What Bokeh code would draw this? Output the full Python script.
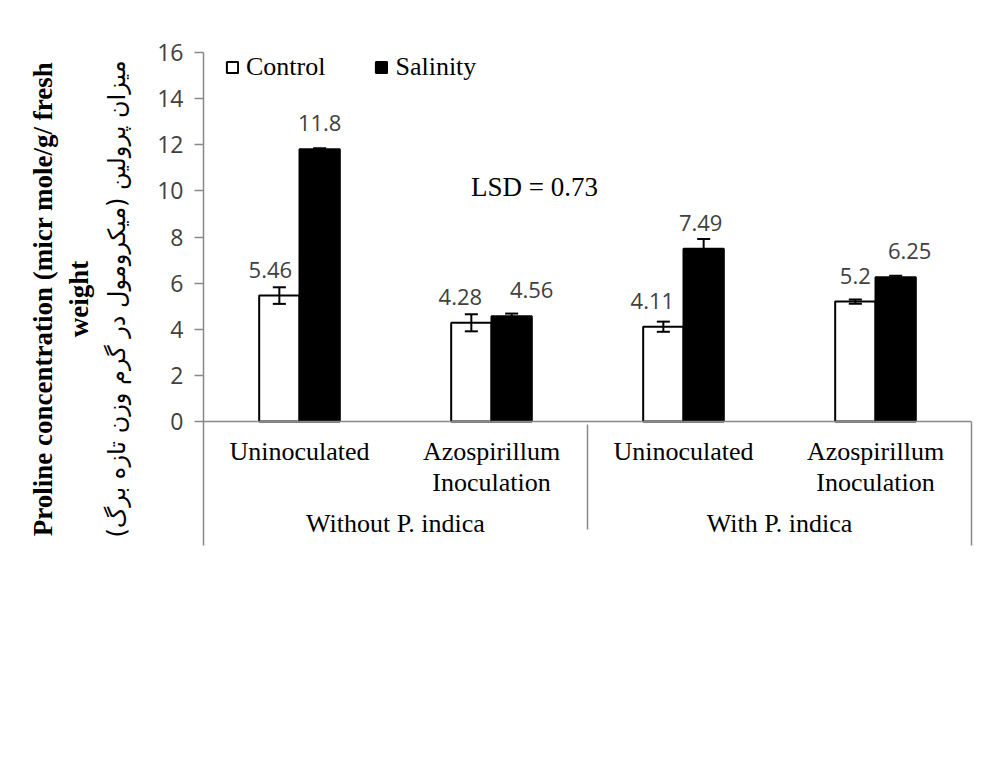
import math
from bokeh.plotting import figure
from bokeh.models import (ColumnDataSource, FactorRange, Range1d, LinearAxis, FixedTicker,
                          Label, LabelSet, Legend, LegendItem)
from bokeh.transform import dodge
from bokeh.core.properties import value
from bokeh.embed import file_html
from bokeh.resources import INLINE

# ---------------- data ----------------
groups = ["Without P. indica", "Without P. indica", "With P. indica", "With P. indica"]
treatments = ["Uninoculated", "Azospirillum\nInoculation", "Uninoculated", "Azospirillum\nInoculation"]
series_names = ["Control", "Salinity"]
control = [5.46, 4.28, 4.11, 5.2]
salinity = [11.8, 4.56, 7.49, 6.25]
control_err = [0.36, 0.37, 0.22, 0.09]
salinity_err = [0.05, 0.12, 0.42, 0.07]
y_ticks = [0, 2, 4, 6, 8, 10, 12, 14, 16]
y_max = 16
lsd_text = "LSD = 0.73"
y_title_en = "Proline concentration (micr mole/g/ fresh\nweight"
y_title_fa = "(میزان پرولین (میکرومول در گرم وزن تازه برگ"

# ---------------- styles / layout ----------------
label_dx_control = [-9, -11, -11, 0]
label_dx_salinity = [0, 20, -3, 14]
AX = "#898989"
BAR_W = 0.21
OFF = 0.105
CAP = 0.034
W, H = 984, 742
FRAME_L, FRAME_R, FRAME_T, ZERO_Y, FRAME_B = 203, 971, 52, 421, 545
PX_PER_UNIT = (ZERO_Y - FRAME_T) / y_max
y_low = -(FRAME_B - ZERO_Y) / PX_PER_UNIT   # extends the frame below zero for the category band


def sx(page_x):
    return (page_x - FRAME_L) / ((FRAME_R - FRAME_L) / 4.0)


def sy(page_y):
    return (ZERO_Y - page_y) / PX_PER_UNIT


factors = list(zip(groups, treatments))
src = ColumnDataSource(dict(
    x=factors,
    control=control, salinity=salinity,
    c_lo=[v - e for v, e in zip(control, control_err)],
    c_hi=[v + e for v, e in zip(control, control_err)],
    s_lo=[v - e for v, e in zip(salinity, salinity_err)],
    s_hi=[v + e for v, e in zip(salinity, salinity_err)],
    c_txt=[str(v) for v in control], s_txt=[str(v) for v in salinity],
    c_dx=label_dx_control, s_dx=label_dx_salinity,
))

p = figure(width=W, height=H, output_backend="svg", toolbar_location=None,
           x_range=FactorRange(*factors, range_padding=0, group_padding=0, factor_padding=0),
           y_range=Range1d(y_low, y_max),
           min_border_left=FRAME_L, min_border_right=W - FRAME_R,
           min_border_top=FRAME_T, min_border_bottom=H - FRAME_B)
p.outline_line_color = None
p.xgrid.grid_line_color = None
p.ygrid.grid_line_color = None
p.background_fill_color = "white"
p.border_fill_color = "white"

# bars
rc = p.vbar(x=dodge("x", -OFF, range=p.x_range), top="control", bottom=0, width=BAR_W, source=src,
            fill_color="white", line_color="black", line_width=2)
rs = p.vbar(x=dodge("x", OFF, range=p.x_range), top="salinity", bottom=0, width=BAR_W, source=src,
            fill_color="black", line_color="black", line_width=2)

# error bars
for off, lo, hi in [(-OFF, "c_lo", "c_hi"), (OFF, "s_lo", "s_hi")]:
    p.segment(x0=dodge("x", off, range=p.x_range), y0=lo, x1=dodge("x", off, range=p.x_range), y1=hi,
              source=src, line_color="black", line_width=2)
    for end in (lo, hi):
        p.segment(x0=dodge("x", off - CAP, range=p.x_range), y0=end,
                  x1=dodge("x", off + CAP, range=p.x_range), y1=end,
                  source=src, line_color="black", line_width=2)

# data labels
for off, col, txt, dx in [(-OFF, "control", "c_txt", "c_dx"), (OFF, "salinity", "s_txt", "s_dx")]:
    p.add_layout(LabelSet(x=dodge("x", off, range=p.x_range), y=col, text=txt, source=src,
                          x_offset=dx, y_offset=26, text_align="center", text_baseline="middle",
                          text_font=value("Open Sans"), text_font_size=value("22px"),
                          text_color="#404040"))

# y axis (ticks)
ya = p.yaxis[0]
ya.ticker = FixedTicker(ticks=y_ticks)
ya.axis_line_color = AX
ya.axis_line_width = 1.5
ya.major_tick_line_color = AX
ya.major_tick_line_width = 1.5
ya.major_tick_out = 9
ya.major_tick_in = 0
ya.minor_tick_line_color = None
ya.major_label_standoff = 11
ya.major_label_text_font = "Open Sans"
ya.major_label_text_font_size = "23px"
ya.major_label_text_color = "#404040"

# x axis (categories) drawn at y = 0
xa = p.xaxis[0]
xa.fixed_location = 0
xa.axis_line_color = AX
xa.axis_line_width = 1.5
xa.major_tick_line_color = None
xa.minor_tick_line_color = None
xa.major_label_text_font = "Liberation Serif"
xa.major_label_text_font_size = "26px"
xa.major_label_text_line_height = 1.1
xa.major_label_text_color = "black"
xa.major_label_standoff = 9
xa.group_text_font = "Liberation Serif"
xa.group_text_font_size = "26px"
xa.group_text_color = "black"
xa.group_text_font_style = "normal"
xa.separator_line_color = AX
xa.separator_line_width = 1.5

# right boundary line of the category band
ra = LinearAxis(ticker=FixedTicker(ticks=[]), bounds=(y_low, 0),
                axis_line_color=AX, axis_line_width=1.5,
                major_tick_line_color=None, minor_tick_line_color=None,
                major_label_text_font_size="0px")
p.add_layout(ra, "right")

# y-axis titles (Persian inner, English outer)
ax_fa = LinearAxis(ticker=FixedTicker(ticks=[]), axis_line_color=None,
                   major_tick_line_color=None, minor_tick_line_color=None,
                   major_label_text_font_size="0px", major_label_standoff=0,
                   axis_label=y_title_fa, axis_label_standoff=24,
                   axis_label_text_font="DejaVu Sans", axis_label_text_font_size="24px",
                   axis_label_text_font_style="normal", axis_label_text_color="black")
p.add_layout(ax_fa, "left")
ax_en = LinearAxis(ticker=FixedTicker(ticks=[]), axis_line_color=None,
                   major_tick_line_color=None, minor_tick_line_color=None,
                   major_label_text_font_size="0px", major_label_standoff=0,
                   axis_label=y_title_en, axis_label_standoff=6,
                   axis_label_text_font="Liberation Serif", axis_label_text_font_size="27px",
                   axis_label_text_font_style="bold", axis_label_text_line_height=1.18,
                   axis_label_text_color="black")
p.add_layout(ax_en, "left")

# legend
legend = Legend(items=[LegendItem(label=series_names[0], renderers=[rc]),
                       LegendItem(label=series_names[1], renderers=[rs])],
                orientation="horizontal", location=(22, (FRAME_B - FRAME_T) - 30),
                border_line_color=None, background_fill_alpha=0,
                padding=0, margin=0, glyph_width=14, glyph_height=14,
                label_standoff=7, spacing=49,
                label_text_font="Liberation Serif", label_text_font_size="26px",
                label_text_color="black")
p.add_layout(legend)

# LSD
p.add_layout(Label(x=sx(534), y=sy(186), text=lsd_text,
                   text_align="center", text_baseline="middle",
                   text_font="Liberation Serif", text_font_size="27px", text_color="black"))

open("out.html", "w").write(file_html(p, INLINE))
